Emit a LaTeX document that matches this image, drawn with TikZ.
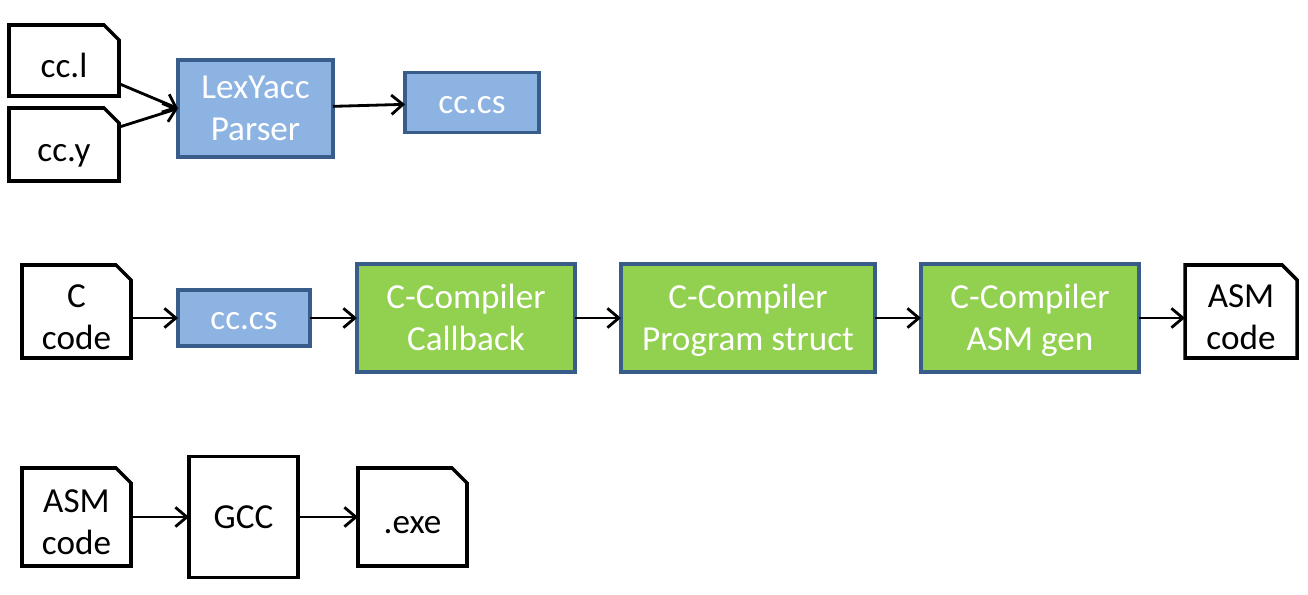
\documentclass[tikz,border=0pt]{standalone}
\usepackage{fontspec}
\setmainfont{Carlito}
\usetikzlibrary{arrows.meta, positioning}

\definecolor{boxblue}{RGB}{141,179,226}
\definecolor{boxgreen}{RGB}{146,208,80}
\definecolor{edgeblue}{RGB}{56,93,138}

\begin{document}
\begin{tikzpicture}[
	every node/.style={font=\fontsize{20}{24}\selectfont, align=center, inner sep=0pt, outer sep=0pt, text height=18.9pt, text depth=6pt},
	twolines/.style={text height=42.9pt},
	doc/.style={rectangle, fill=white, minimum width=2.2cm, text depth=-1.4pt},
	docline/.style={draw=black, line width=2pt, line join=miter},
	tool/.style={rectangle, draw=edgeblue, line width=2pt, text=white},
	lexbox/.style={tool, fill=boxblue},
	passbox/.style={tool, twolines, fill=boxgreen, minimum width=4.36cm, minimum height=2.16cm},
	arrow/.style={-{Straight Barb[length=6.5pt, width=11pt]}, line width=1.6pt}
]
\useasboundingbox (0,0) rectangle (26.16,-11.9);

% Parser generation
\node[doc, minimum height=1.42cm] (ccl) at (1.28,-1.21) {cc.l};
\node[doc, minimum height=1.46cm, below=0.24cm of ccl] (ccy) {cc.y};
\node[lexbox, twolines, minimum width=3.1cm, minimum height=1.94cm] (lexyacc) at (5.11,-2.17) {LexYacc\\Parser};
\node[lexbox, minimum width=2.68cm, minimum height=1.2cm, right=1.44cm of lexyacc, yshift=0.12cm] (parser) {cc.cs};

\draw[arrow] (ccl) -- (lexyacc.west);
\draw[arrow] (ccy) -- (lexyacc.west);
\draw[arrow] (lexyacc) -- (parser);

% Compiler passes
\node[doc, twolines, minimum width=2.18cm, minimum height=1.86cm] (ccode) at (1.53,-6.23) {C\\code};
\node[lexbox, minimum width=2.64cm, minimum height=1.12cm] (ccs) at (4.88,-6.36) {cc.cs};
\node[passbox, right=0.94cm of ccs] (callback) {C-Compiler\\Callback};
\node[passbox, minimum width=5.08cm, right=0.92cm of callback] (progstruct) {C-Compiler\\Program struct};
\node[passbox, right=0.92cm of progstruct] (asmgen) {C-Compiler\\ASM gen};
\node[doc, twolines, minimum width=2.24cm, minimum height=1.86cm, right=0.92cm of asmgen, yshift=0.13cm] (asmout) {ASM\\code};

\draw[arrow] (ccode.east |- ccs) -- (ccs);
\draw[arrow] (ccs) -- (callback);
\draw[arrow] (callback) -- (progstruct);
\draw[arrow] (progstruct) -- (asmgen);
\draw[arrow] (asmgen) -- (asmout.west |- asmgen);

% Assembling
\node[doc, twolines, minimum width=2.18cm, minimum height=1.96cm] (asmin) at (1.53,-10.34) {ASM\\code};
\node[rectangle, draw=black, line width=2pt, minimum width=2.18cm, minimum height=2.42cm, right=1.16cm of asmin] (gcc) {GCC};
\node[doc, minimum width=2.18cm, minimum height=1.96cm, right=1.2cm of gcc] (exe) {.exe};

\draw[arrow] (asmin) -- (gcc);
\draw[arrow] (gcc) -- (exe);

% folded-corner outlines of the files
\foreach \f in {ccl, ccy, ccode, asmout, asmin, exe}
	\draw[docline] (\f.south west) |- ([xshift=-0.3cm]\f.north east) -- ([yshift=-0.3cm]\f.north east) |- cycle;

\end{tikzpicture}
\end{document}
